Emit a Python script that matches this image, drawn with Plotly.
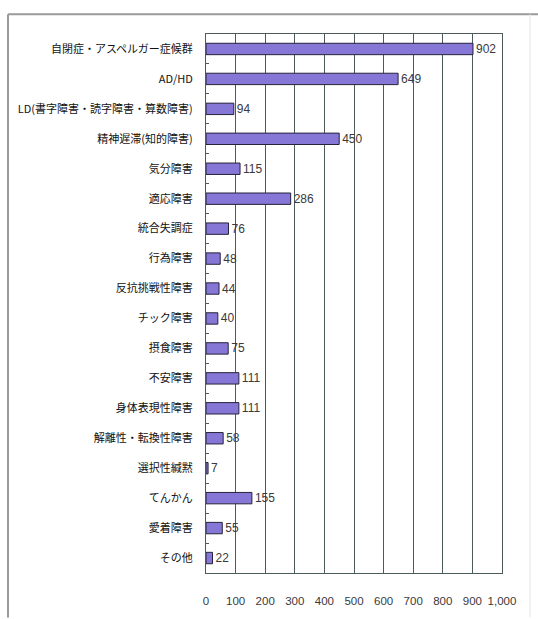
import plotly.graph_objects as go

# Diagnosis categories (top to bottom) and number of cases
categories = [
    "自閉症・アスペルガー症候群",
    "AD/HD",
    "LD(書字障害・読字障害・算数障害)",
    "精神遅滞(知的障害)",
    "気分障害",
    "適応障害",
    "統合失調症",
    "行為障害",
    "反抗挑戦性障害",
    "チック障害",
    "摂食障害",
    "不安障害",
    "身体表現性障害",
    "解離性・転換性障害",
    "選択性緘黙",
    "てんかん",
    "愛着障害",
    "その他",
]
counts = [902, 649, 94, 450, 115, 286, 76, 48, 44, 40, 75, 111, 111, 58, 7, 155, 55, 22]
x_ticks = [0, 100, 200, 300, 400, 500, 600, 700, 800, 900, 1000]

W, H = 538, 619
ML, MR, MT, MB = 206, 36, 34, 39
pw, ph = W - ML - MR, H - MT - MB

NUM_FONT = "Liberation Sans, Arial, sans-serif"
JP_FONT = "Noto Sans CJK JP, sans-serif"
GRID = "#4d5c5a"

fig = go.Figure(
    go.Bar(
        x=counts,
        y=categories,
        orientation="h",
        width=0.38,
        marker=dict(color="#8676d6", line=dict(color="#24243c", width=1)),
        text=[str(v) for v in counts],
        textposition="outside",
        constraintext="none",
        textfont=dict(family=NUM_FONT, size=12, color="#3a3a3a"),
        cliponaxis=False,
    )
)


def px_x(px):
    return (px - ML) / pw


def px_y(py):
    return (H - MB - py) / ph


# outer frame around the figure (open at the bottom)
fig.add_shape(type="line", xref="paper", yref="paper",
              x0=px_x(8), x1=px_x(8), y0=px_y(14), y1=px_y(625),
              line=dict(color="#9a9a9a", width=2))
fig.add_shape(type="line", xref="paper", yref="paper",
              x0=px_x(8), x1=px_x(540), y0=px_y(14), y1=px_y(14),
              line=dict(color="#9a9a9a", width=2))
fig.add_shape(type="line", xref="paper", yref="paper",
              x0=px_x(530), x1=px_x(530), y0=px_y(14), y1=px_y(625),
              line=dict(color="#e4e8e8", width=1))

fig.update_layout(
    width=W,
    height=H,
    margin=dict(l=ML, r=MR, t=MT, b=MB),
    paper_bgcolor="white",
    plot_bgcolor="white",
    showlegend=False,
    bargap=0.6,
    xaxis=dict(
        range=[0, 1000],
        tickvals=x_ticks,
        tickformat=",d",
        tickangle=0,
        showgrid=True,
        gridcolor=GRID,
        gridwidth=1,
        zeroline=False,
        showline=True,
        linecolor=GRID,
        linewidth=1,
        mirror=True,
        ticks="",
        ticklabelstandoff=17,
        tickfont=dict(family=NUM_FONT, size=11.5, color="#3a3a3a"),
    ),
    yaxis=dict(
        autorange="reversed",
        categoryorder="array",
        categoryarray=categories,
        showgrid=False,
        showline=True,
        linecolor=GRID,
        linewidth=1,
        mirror=True,
        ticks="inside",
        tickson="boundaries",
        ticklen=3,
        tickcolor=GRID,
        ticklabelstandoff=10,
        tickfont=dict(family=JP_FONT, size=11, color="#111111"),
    ),
)

fig.write_html("out.html")
